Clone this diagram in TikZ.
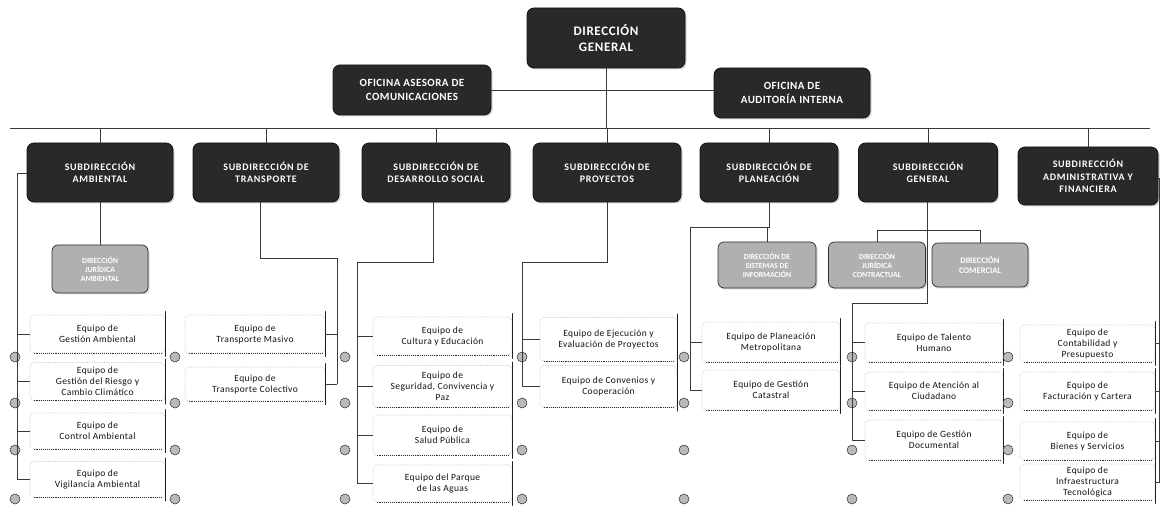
\documentclass[tikz,border=0pt]{standalone}
\usepackage{fontspec}
\setmainfont{Carlito}
\usetikzlibrary{shadows}
\tikzset{
  conn/.style={draw=gray!45!black, line width=0.6pt},
  darkbox/.style={rounded corners=7pt, fill=gray!32!black, draw=gray!15!black, line width=0.8pt,
    text=white, align=center, inner sep=0pt,
    font={\bfseries\fontsize{10}{12.5}\selectfont\addfontfeatures{LetterSpace=7}},
    drop shadow={opacity=0.35, shadow xshift=1.5pt, shadow yshift=-1.5pt}},
  lightbox/.style={rounded corners=6pt, fill=gray!62, draw=gray!35!black, line width=0.7pt,
    text=white, align=center, inner sep=0pt,
    font=\bfseries\fontsize{7.8}{9}\selectfont,
    drop shadow={opacity=0.3, shadow xshift=1.5pt, shadow yshift=-1.5pt}},
  teambox/.style={rounded corners=4pt, fill=white, draw=gray!45, densely dotted, line width=0.7pt,
    text=gray!15!black, align=center, inner sep=0pt,
    font={\fontsize{9.5}{11}\selectfont\addfontfeatures{LetterSpace=4}}},
  teamedge/.style={draw=gray!25!black, line width=1.3pt, line cap=round},
  blob/.style={circle, minimum size=10pt, inner sep=0pt, fill=gray!55, draw=gray!35!black, line width=0.5pt}
}
\begin{document}
\begin{tikzpicture}[x=1pt,y=-1pt]
\useasboundingbox (0,0) rectangle (1161,510);

% top level
\node[darkbox, minimum width=158pt, minimum height=60pt, font={\bfseries\fontsize{13}{15.5}\selectfont\addfontfeatures{LetterSpace=5}}] (dg) at (606,38) {DIRECCIÓN\\GENERAL};
\node[darkbox, minimum width=158pt, minimum height=50pt, font={\bfseries\fontsize{11}{13.5}\selectfont\addfontfeatures{LetterSpace=4}}] (oac) at (412,90) {OFICINA ASESORA DE\\COMUNICACIONES};
\node[darkbox, minimum width=156pt, minimum height=50pt, font={\bfseries\fontsize{11}{13.5}\selectfont\addfontfeatures{LetterSpace=4}}] (oai) at (792,93) {OFICINA DE\\AUDITORÍA INTERNA};

% subdirecciones
\node[darkbox, minimum width=146pt, minimum height=59pt] (amb) at (100,172.5) {SUBDIRECCIÓN\\AMBIENTAL};
\node[darkbox, minimum width=146pt, minimum height=59pt] (tra) at (266,172.5) {SUBDIRECCIÓN DE\\TRANSPORTE};
\node[darkbox, minimum width=148pt, minimum height=59pt] (des) at (436,172.5) {SUBDIRECCIÓN DE\\DESARROLLO SOCIAL};
\node[darkbox, minimum width=148pt, minimum height=59pt] (pro) at (607,172.5) {SUBDIRECCIÓN DE\\PROYECTOS};
\node[darkbox, minimum width=138pt, minimum height=59pt] (pla) at (769,172.5) {SUBDIRECCIÓN DE\\PLANEACIÓN};
\node[darkbox, minimum width=139pt, minimum height=59pt] (gen) at (928,172.5) {SUBDIRECCIÓN\\GENERAL};
\node[darkbox, minimum width=140pt, minimum height=58pt] (adm) at (1088,176) {SUBDIRECCIÓN\\ADMINISTRATIVA Y\\FINANCIERA};

% light boxes
\node[lightbox, minimum width=96pt, minimum height=48pt] (dja) at (100,269) {DIRECCIÓN\\JURÍDICA\\AMBIENTAL};
\node[lightbox, minimum width=98pt, minimum height=46pt] (dsi) at (767,265) {DIRECCIÓN DE\\SISTEMAS DE\\INFORMACIÓN};
\node[lightbox, minimum width=97pt, minimum height=46pt] (djc) at (877,265) {DIRECCIÓN\\JURÍDICA\\CONTRACTUAL};
\node[lightbox, minimum width=96pt, minimum height=44pt, font=\bfseries\fontsize{8.5}{10.5}\selectfont] (dco) at (980,265) {DIRECCIÓN\\COMERCIAL};

% teams: Ambiental
\node[teambox, minimum width=135pt, minimum height=38pt] (a1) at (97.5,334) {Equipo de\\Gestión Ambiental};
\node[teambox, minimum width=135pt, minimum height=38pt] (a2) at (97.5,381.5) {Equipo de\\Gestión del Riesgo y\\Cambio Climático};
\node[teambox, minimum width=135pt, minimum height=36pt] (a3) at (97.5,431) {Equipo de\\Control Ambiental};
\node[teambox, minimum width=135pt, minimum height=36pt] (a4) at (97.5,479.5) {Equipo de\\Vigilancia Ambiental};
% Transporte
\node[teambox, minimum width=140pt, minimum height=38pt] (t1) at (255,334) {Equipo de\\Transporte Masivo};
\node[teambox, minimum width=140pt, minimum height=34pt] (t2) at (255,384) {Equipo de\\Transporte Colectivo};
% Desarrollo social
\node[teambox, minimum width=139pt, minimum height=38pt] (d1) at (442.5,336) {Equipo de\\Cultura y Educación};
\node[teambox, minimum width=139pt, minimum height=42pt] (d2) at (442.5,386.5) {Equipo de\\Seguridad, Convivencia y\\Paz};
\node[teambox, minimum width=139pt, minimum height=40pt] (d3) at (442.5,435) {Equipo de\\Salud Pública};
\node[teambox, minimum width=139pt, minimum height=37pt] (d4) at (442.5,483.5) {Equipo del Parque\\de las Aguas};
% Proyectos
\node[teambox, minimum width=137pt, minimum height=44pt] (p1) at (608.5,339.5) {Equipo de Ejecución y\\Evaluación de Proyectos};
\node[teambox, minimum width=137pt, minimum height=42pt] (p2) at (608.5,386.5) {Equipo de Convenios y\\Cooperación};
% Planeacion
\node[teambox, minimum width=138pt, minimum height=40pt] (l1) at (771,342) {Equipo de Planeación\\Metropolitana};
\node[teambox, minimum width=138pt, minimum height=40pt] (l2) at (771,390) {Equipo de Gestión\\Catastral};
% General
\node[teambox, minimum width=138pt, minimum height=39pt] (g1) at (934,342.5) {Equipo de Talento\\Humano};
\node[teambox, minimum width=138pt, minimum height=38pt] (g2) at (934,391) {Equipo de Atención al\\Ciudadano};
\node[teambox, minimum width=138pt, minimum height=40pt] (g3) at (934,440) {Equipo de Gestión\\Documental};
% Administrativa
\node[teambox, minimum width=135pt, minimum height=37pt] (m1) at (1087.5,343.5) {Equipo de\\Contabilidad y\\Presupuesto};
\node[teambox, minimum width=135pt, minimum height=38pt] (m2) at (1087.5,391) {Equipo de\\Facturación y Cartera};
\node[teambox, minimum width=135pt, minimum height=38pt] (m3) at (1087.5,441) {Equipo de\\Bienes y Servicios};
\node[teambox, minimum width=135pt, minimum height=36pt] (m4) at (1087.5,482) {Equipo de\\Infraestructura\\Tecnológica};

% darker right edge and bottom of team boxes
\foreach \n in {a1,a2,a3,a4,t1,t2,d1,d2,d3,d4,p1,p2,l1,l2,g1,g2,g3,m1,m2,m3,m4}{
  \draw[teamedge] ([yshift=3pt]\n.north east) -- ([yshift=-3pt]\n.south east);
  \draw[draw=gray!40!black, densely dotted, line width=0.9pt] ([xshift=4pt]\n.south west) -- ([xshift=-3pt]\n.south east);
}

% bullets
\foreach \x [count=\i] in {15,175,345,522,684,852,1008}
  \foreach \y [count=\j] in {357,403,450,499}
    \node[blob] (b\i\j) at (\x,\y) {};

% connectors top
\coordinate (busL) at (10,128);
\coordinate (busR) at (1150,128);
\coordinate (busC) at (dg.south |- busL);
\draw[conn] (oac.east) -- (oac.east -| oai.west);
\draw[conn] (dg.south) -- (busC);
\draw[conn] (busL) -- (busR);
\foreach \n in {amb,tra,des,pro,pla,gen,adm}
  \draw[conn] (\n.north |- busL) -- (\n.north);

% Ambiental
\draw[conn] (amb.south) -- (dja.north);
\coordinate (ambL) at (17,173);
\draw[conn] (amb.west |- ambL) -- (ambL) -- (ambL |- a4.west);
\foreach \n in {a1,a2,a3,a4} \draw[conn] (ambL |- \n.west) -- (\n.west);

% Transporte
\coordinate (traA) at (260,258);
\coordinate (traR) at (337,258);
\draw[conn] (tra.south -| traA) -- (traA) -- (traR) -- (traR |- t2.east);
\foreach \n in {t1,t2} \draw[conn] (traR |- \n.east) -- (\n.east);

% Desarrollo social
\coordinate (desA) at (433,262);
\coordinate (desL) at (357,262);
\draw[conn] (des.south -| desA) -- (desA) -- (desL) -- (desL |- d4.west);
\foreach \n in {d1,d2,d3,d4} \draw[conn] (desL |- \n.west) -- (\n.west);

% Proyectos
\coordinate (proA) at (607,262);
\coordinate (proL) at (522,262);
\draw[conn] (pro.south) -- (proA) -- (proL) -- (proL |- p2.west);
\foreach \n in {p1,p2} \draw[conn] (proL |- \n.west) -- (\n.west);

% Planeacion
\coordinate (plaA) at (769,227);
\coordinate (plaL) at (690,227);
\draw[conn] (pla.south) -- (plaA) -- (plaL) -- (plaL |- l2.west);
\draw[conn] (dsi.north |- plaA) -- (dsi.north);
\foreach \n in {l1,l2} \draw[conn] (plaL |- \n.west) -- (\n.west);

% General
\coordinate (genA) at (927,230);
\coordinate (genB) at (927,303);
\coordinate (genL) at (852,303);
\draw[conn] (gen.south -| genA) -- (genA) -- (genB) -- (genL) -- (genL |- g3.west);
\draw[conn] (djc.north) -- (djc.north |- genA) -- (dco.north |- genA) -- (dco.north);
\foreach \n in {g1,g2,g3} \draw[conn] (genL |- \n.west) -- (\n.west);

% Administrativa
\coordinate (admR) at (1159.5,178);
\draw[conn] (adm.east |- admR) -- (admR) -- (admR |- m4.east);
\foreach \n in {m1,m2,m3,m4} \draw[conn] (admR |- \n.east) -- (\n.east);
\end{tikzpicture}
\end{document}
